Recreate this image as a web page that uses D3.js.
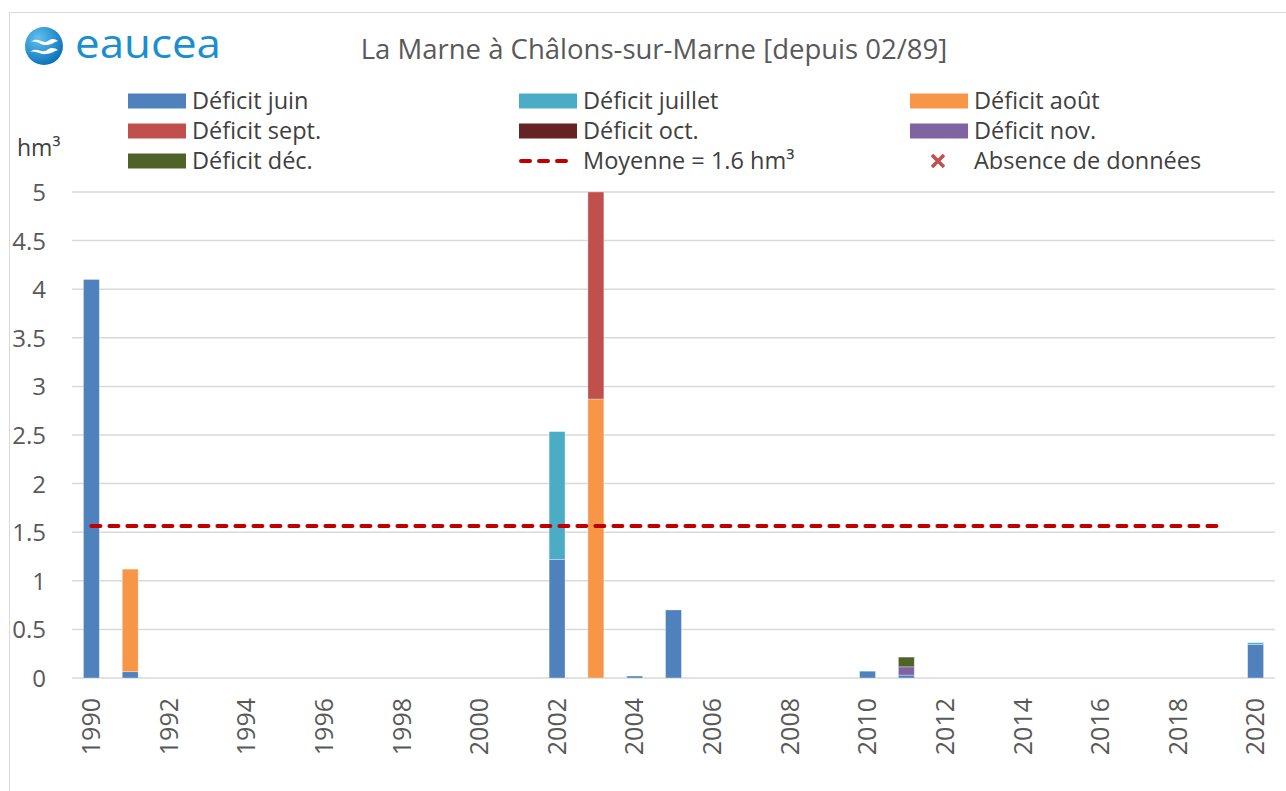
<!DOCTYPE html>
<html><head><meta charset="utf-8">
<script src="https://cdn.jsdelivr.net/npm/d3@7"></script>
<style>body{margin:0;background:#fff}svg{display:block}text{font-family:"Open Sans",sans-serif}</style>
</head><body><svg id="c" width="1286" height="791"></svg>
<script>
const years = d3.range(1990, 2021).map(String);
const tickYears = years.filter((y,i)=>i%2===0);
const series = ["Déficit juin","Déficit juillet","Déficit août","Déficit sept.","Déficit oct.","Déficit nov.","Déficit déc."];
const colors = ["#4F81BD","#4BACC6","#F79646","#C0504D","#632423","#8064A2","#4F6228"];
// values per year (hm³), by month
const juin    = {"1990":4.10,"1991":0.065,"2002":1.22,"2004":0.02,"2005":0.70,"2010":0.07,"2011":0.03,"2020":0.345};
const juillet = {"2002":1.315,"2020":0.018};
const aout    = {"1991":1.055,"2003":2.87};
const sept    = {"2003":2.13};
const oct     = {};
const nov     = {"2011":0.085};
const dec     = {"2011":0.10};
const monthData = [juin,juillet,aout,sept,oct,nov,dec];
const meanValue = 1.564;
const meanLabel = "Moyenne = 1.6 hm³";
const yTicks = [0,0.5,1,1.5,2,2.5,3,3.5,4,4.5,5];
const title = "La Marne à Châlons-sur-Marne [depuis 02/89]";

const svg = d3.select("#c");
// frame
svg.append("rect").attr("x",9.5).attr("y",12.5).attr("width",1290).attr("height",800)
  .attr("fill","none").attr("stroke","#d9d9d9").attr("stroke-width",1);

const x = d3.scaleBand().domain(years).range([72,1275]).paddingInner(0.59).paddingOuter(0.295);
const y = d3.scaleLinear().domain([0,5]).range([678,192]);

// grid
svg.append("g").selectAll("line").data(yTicks).join("line")
  .attr("x1",72).attr("x2",1275).attr("y1",d=>y(d)).attr("y2",d=>y(d))
  .attr("stroke","#d9d9d9").attr("stroke-width",1.5);

// y axis labels
const ya = svg.append("g").attr("transform","translate(46,0)")
  .call(d3.axisLeft(y).tickValues(yTicks).tickSize(0).tickPadding(0).tickFormat(d3.format("")));
ya.select(".domain").remove();
ya.selectAll("text").attr("font-size",24).attr("fill","#595959").attr("font-family","Open Sans").attr("dy","0.35em");
svg.append("text").attr("x",17).attr("y",156).attr("font-size",23).attr("fill","#404040").text("hm³");

// stacked data
const rows = years.map(yr => { const r={year:yr}; series.forEach((s,i)=>r[s]=monthData[i][yr]||0); return r; });
const stacked = d3.stack().keys(series)(rows);
svg.append("defs").append("clipPath").attr("id","clip").append("rect")
  .attr("x",60).attr("y",y(5)).attr("width",1230).attr("height",y(0)-y(5));
const bars = svg.append("g").attr("clip-path","url(#clip)");
stacked.forEach((layer,i)=>{
  bars.append("g").selectAll("rect").data(layer.filter(d=>d[1]-d[0]>0)).join("rect")
    .attr("x",d=>x(d.data.year)).attr("width",x.bandwidth())
    .attr("y",d=>y(d[1])).attr("height",d=>y(d[0])-y(d[1]))
    .attr("fill",colors[i]).attr("stroke","#ffffff").attr("stroke-opacity",0.4).attr("stroke-width",0.8);
});

// mean line
const line = d3.line().x(d=>x(d)+x.bandwidth()/2).y(()=>y(meanValue));
svg.append("path").datum([years[0],years[years.length-2]]).attr("d",line)
  .attr("stroke","#C00000").attr("stroke-width",4).attr("fill","none")
  .attr("stroke-dasharray","9 9").attr("stroke-linecap","round");

// x axis labels
const xa = svg.append("g").attr("transform","translate(0,696)")
  .call(d3.axisBottom(x).tickValues(tickYears).tickSize(0).tickPadding(0));
xa.select(".domain").remove();
xa.selectAll("text").attr("font-size",25).attr("fill","#595959").attr("font-family","Open Sans")
  .attr("transform","rotate(-90)").attr("text-anchor","end").attr("x",-2).attr("y",0).attr("dy","0.35em");

// title
svg.append("text").attr("x",654).attr("y",59).attr("text-anchor","middle").attr("font-size",27.5)
  .attr("fill","#595959").text(title);

// legend
const legItems = series.map((s,i)=>({label:s,type:"rect",color:colors[i]}));
legItems.push({label:meanLabel,type:"line",color:"#C00000"});
legItems.push({label:"Absence de données",type:"x",color:"#C0504D"});
const colX = [128,519,910];
const rowY = [101,131,161];
const lg = svg.append("g");
legItems.forEach((it,i)=>{
  const cx = colX[i%3], cy = rowY[Math.floor(i/3)];
  const g = lg.append("g").attr("transform",`translate(${cx},${cy})`);
  if(it.type==="rect") g.append("rect").attr("x",0).attr("y",-7.5).attr("width",58).attr("height",15).attr("fill",it.color);
  else if(it.type==="line") g.append("line").attr("x1",2).attr("x2",56).attr("y1",0).attr("y2",0)
     .attr("stroke",it.color).attr("stroke-width",4).attr("stroke-dasharray","9 9").attr("stroke-linecap","round");
  else g.append("path").attr("d","M22,-6L34,6M34,-6L22,6").attr("stroke",it.color).attr("stroke-width",3.5);
  g.append("text").attr("x",64).attr("y",0).attr("dy","0.35em").attr("font-size",23.5)
   .attr("fill","#404040").text(it.label);
});

// logo
const defs = svg.select("defs");
const grad = defs.append("radialGradient").attr("id","lg").attr("cx","35%").attr("cy","30%").attr("r","75%");
grad.append("stop").attr("offset","0%").attr("stop-color","#5fc3f0");
grad.append("stop").attr("offset","100%").attr("stop-color","#0b6fb8");
const logo = svg.append("g").attr("transform","translate(44,46)");
logo.append("circle").attr("r",19).attr("fill","url(#lg)");
logo.append("path").attr("d","M-13,-4 C-7,-10 -1,-1 4,-5 C8,-8 11,-7 14,-5 C10,-4 7,-1 3,-1 C-3,0 -7,-6 -13,-4Z").attr("fill","#fff");
logo.append("path").attr("d","M-14,6 C-8,0 -2,8 3,4 C7,1 11,2 14,4 C10,5 7,8 2,8 C-4,9 -8,4 -14,6Z").attr("fill","#fff");
svg.append("text").attr("x",75).attr("y",58).attr("font-size",40).attr("fill","#1a8fd0").attr("font-family","Open Sans")
  .attr("textLength",146).attr("lengthAdjust","spacingAndGlyphs").text("eaucea");
</script></body></html>
